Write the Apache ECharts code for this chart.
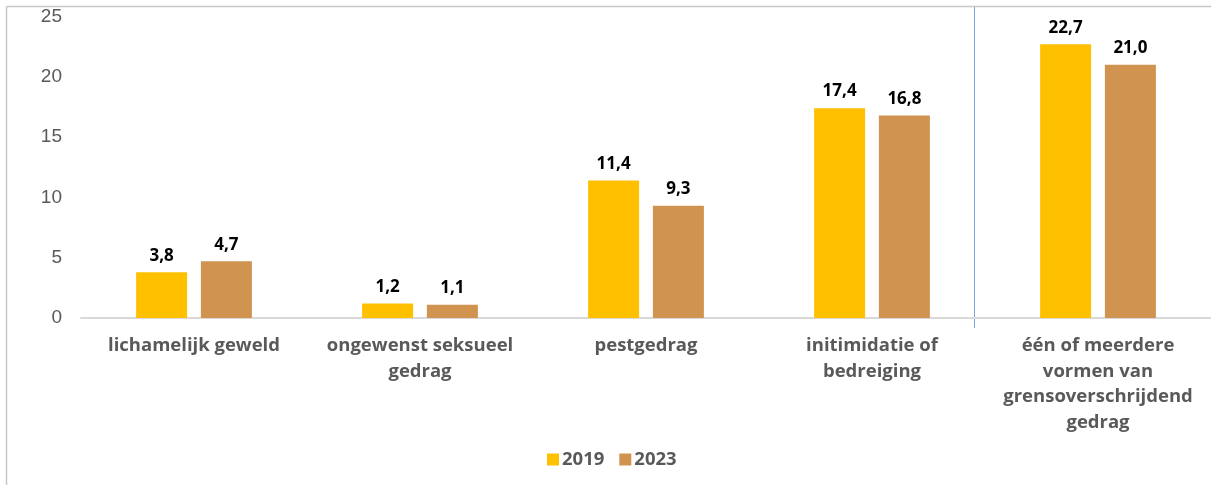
<!DOCTYPE html>
<html><head><meta charset="utf-8">
<script src="https://cdn.jsdelivr.net/npm/echarts@6/dist/echarts.min.js"></script>
<style>html,body{margin:0;padding:0;background:#fff}#c{width:1211px;height:485px}</style>
</head><body><div id="c"></div>
<script>
const categories = ["lichamelijk geweld", "ongewenst seksueel\ngedrag", "pestgedrag", "initimidatie of\nbedreiging", "één of meerdere\nvormen van\ngrensoverschrijdend\ngedrag"];
const values2019 = [3.8, 1.2, 11.4, 17.4, 22.7];
const values2023 = [4.7, 1.1, 9.3, 16.8, 21.0];
const yTicks = [0, 5, 10, 15, 20, 25];

const chart = echarts.init(document.getElementById('c'), null, {renderer: 'canvas'});
const fmt = p => p.value.toFixed(1).replace('.', ',');
const labelStyle = {show: true, position: 'top', distance: 8, formatter: fmt, color: '#000', fontFamily: 'Open Sans', fontWeight: 'bold', fontSize: 17};
chart.setOption({
  animation: false,
  grid: {left: 81, right: -3, top: 16.5, bottom: 167, containLabel: false},
  legend: {
    data: ['2019', '2023'], left: 542, top: 445, icon: 'rect', itemWidth: 12, itemHeight: 12, itemGap: 15,
    textStyle: {color: '#595959', fontFamily: 'Open Sans', fontWeight: 'bold', fontSize: 18.5, padding: [0, 0, 0, -2]}
  },
  xAxis: {
    type: 'category', data: categories,
    axisLine: {lineStyle: {color: '#d9d9d9', width: 2}},
    axisTick: {show: false},
    axisLabel: {interval: 0, color: '#595959', fontFamily: 'Open Sans', fontWeight: 'bold', fontSize: 18.5, lineHeight: 25.5, margin: 15}
  },
  yAxis: {
    type: 'value', min: yTicks[0], max: yTicks[yTicks.length - 1], interval: 5,
    axisLine: {show: false}, axisTick: {show: false}, splitLine: {show: false},
    axisLabel: {color: '#595959', fontFamily: 'Liberation Sans', fontSize: 19, margin: 19}
  },
  series: [
    {name: '2019', type: 'bar', data: values2019, barWidth: 51, barGap: '27%', itemStyle: {color: '#FFC000'}, label: labelStyle},
    {name: '2023', type: 'bar', data: values2023, barWidth: 51, itemStyle: {color: '#D09350'}, label: labelStyle}
  ],
  graphic: [
    {type: 'line', shape: {x1: 6.5, y1: 6.5, x2: 1211, y2: 6.5}, style: {stroke: '#c8c8c8', lineWidth: 1.5}},
    {type: 'line', shape: {x1: 6.5, y1: 6.5, x2: 6.5, y2: 485}, style: {stroke: '#c8c8c8', lineWidth: 1.5}},
    {type: 'line', shape: {x1: 974.5, y1: 7, x2: 974.5, y2: 328}, style: {stroke: '#7ea6d8', lineWidth: 1}}
  ]
});
</script></body></html>
